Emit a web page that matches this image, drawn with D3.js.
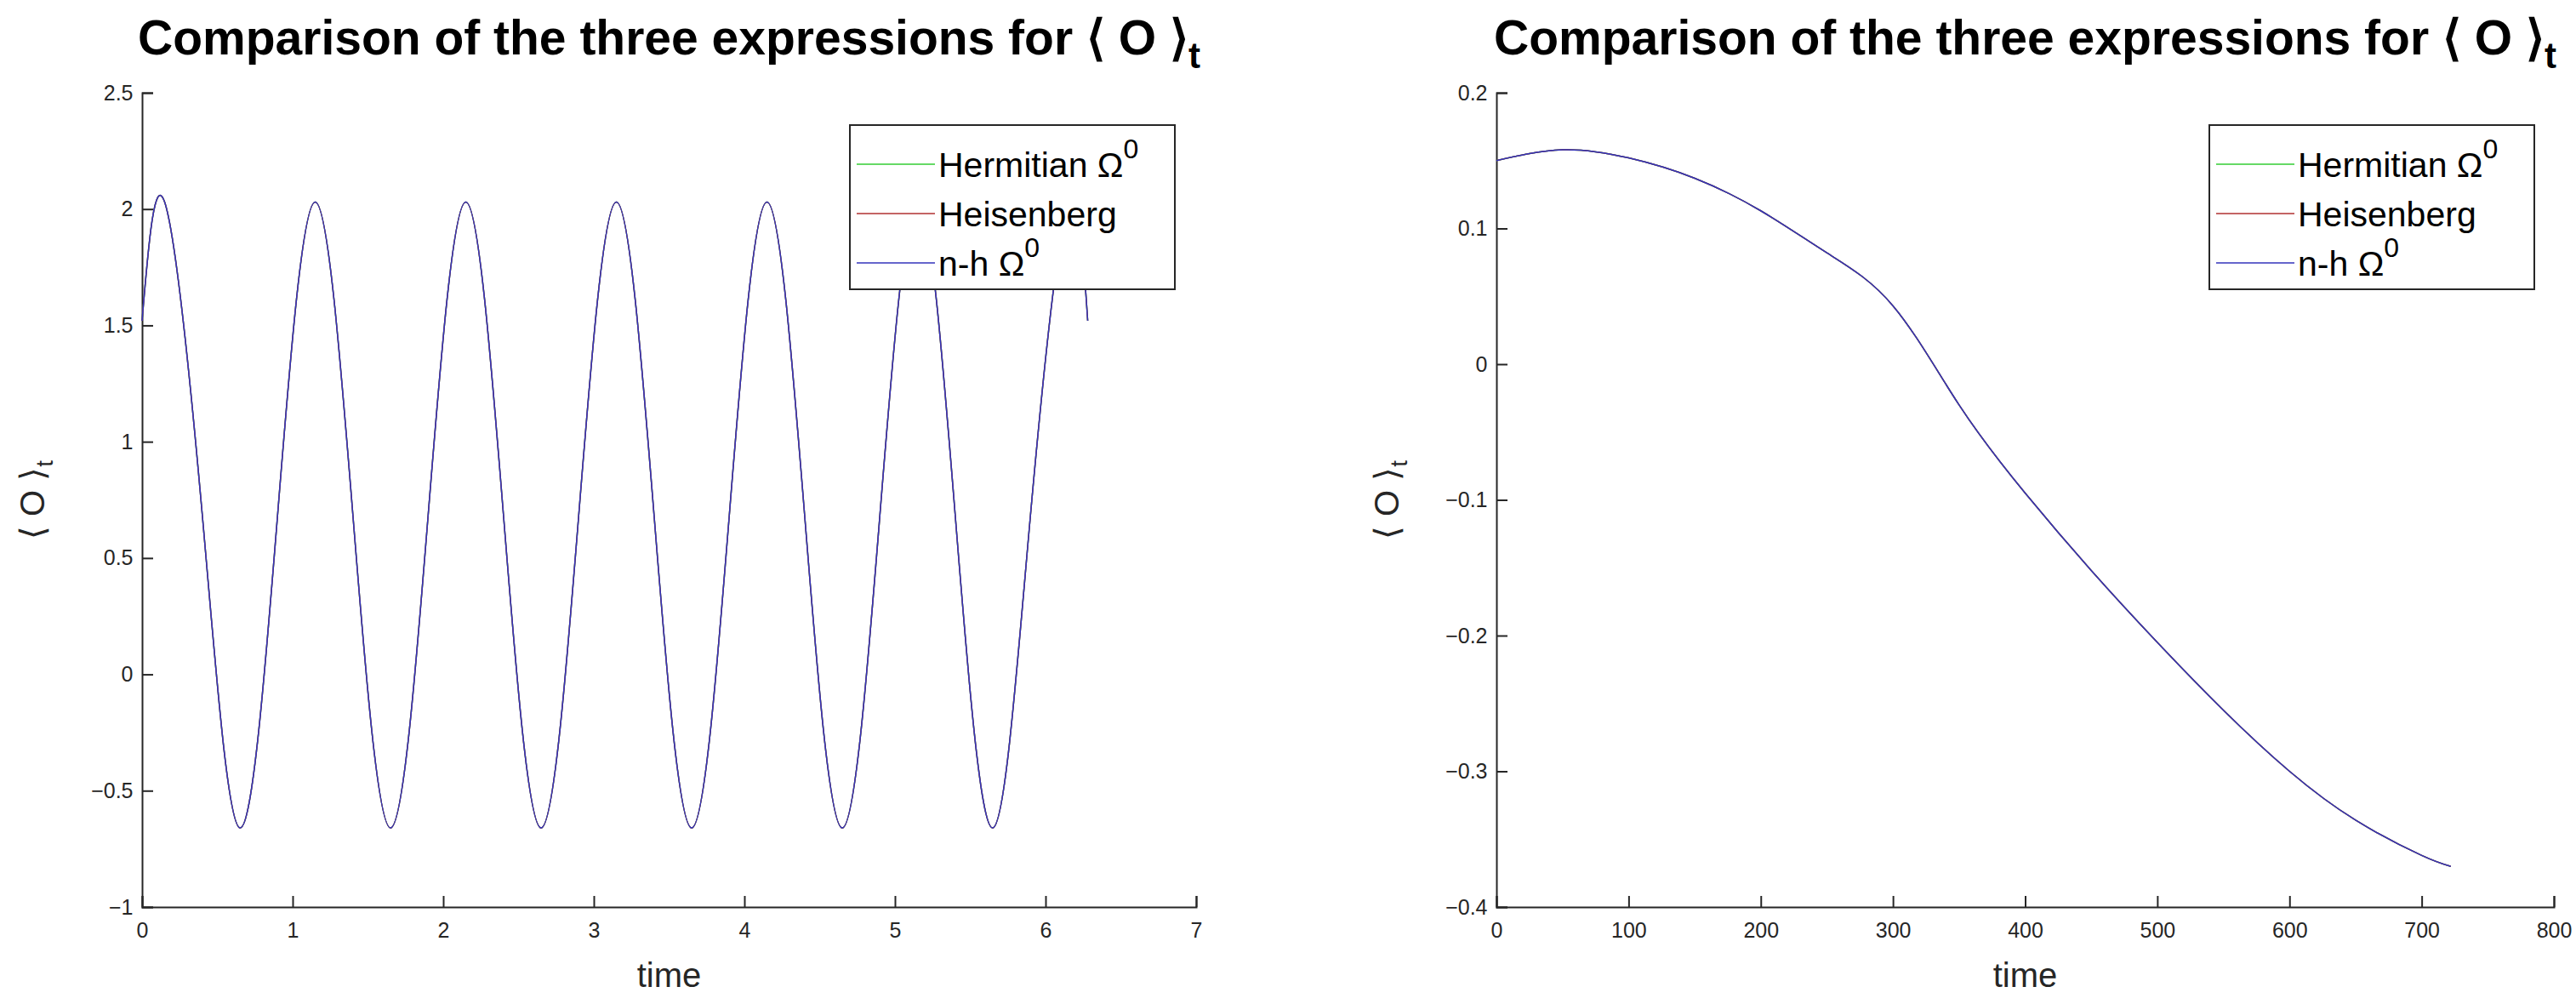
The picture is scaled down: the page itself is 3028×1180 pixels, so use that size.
<!DOCTYPE html><html><head><meta charset="utf-8"><script src="https://cdn.jsdelivr.net/npm/d3@7"></script>
<style>body{margin:0;background:#fff}text{font-family:"Liberation Sans",Arial,sans-serif}</style></head><body><svg id="c" width="3028" height="1180"></svg><script>
const leftT=[0,0.15,0.4,0.65,0.9,1.15,1.4,1.65,1.9,2.15,2.4,2.65,2.9,3.15,3.4,3.65,3.9,4.15,4.4,4.65,4.9,5.15,5.4,5.65,5.9,6.15,6.28];
const leftY=[1.52,2.03,0.685,-0.66,0.685,2.03,0.685,-0.66,0.685,2.03,0.685,-0.66,0.685,2.03,0.685,-0.66,0.685,2.03,0.685,-0.66,0.685,2.03,0.685,-0.66,0.685,2.03,1.52];
const rightT=[0,50,100,150,200,250,300,350,400,450,500,550,600,650,700,722];
const rightY=[0.15,0.158,0.152,0.137,0.113,0.082,0.043,-0.03,-0.095,-0.152,-0.205,-0.255,-0.3,-0.336,-0.362,-0.37];
const seriesNames=["Hermitian Ω","Heisenberg","n-h Ω"];
const seriesSup=["0","","0"];
const seriesColors=["#33cc33","#b03030","#3333bb"];
const leftXTicks=[0,1,2,3,4,5,6,7], leftYTicks=[-1,-0.5,0,0.5,1,1.5,2,2.5];
const rightXTicks=[0,100,200,300,400,500,600,700,800], rightYTicks=[-0.4,-0.3,-0.2,-0.1,0,0.1,0.2];
const svg=d3.select("#c");
function panel(x0,x1,xd,yd,xt,yt,T,Y,legX){
  const x=d3.scaleLinear().domain(xd).range([x0,x1]);
  const y=d3.scaleLinear().domain(yd).range([1066,109]);
  const g=svg.append("g");
  const ax=g.append("g").attr("transform","translate(0,1066)").call(d3.axisBottom(x).tickValues(xt).tickSize(-13).tickFormat(d3.format("")));
  const ay=g.append("g").attr("transform",`translate(${x0},0)`).call(d3.axisLeft(y).tickValues(yt).tickSize(-13).tickFormat(d=>d3.format("")(d).replace("-","−")));
  [ax,ay].forEach(a=>{a.selectAll("path,line").attr("stroke","#262626").attr("stroke-width",2);a.selectAll("text").attr("font-size",25).attr("fill","#262626").attr("font-family","Liberation Sans");});
  ax.selectAll("text").attr("dy","1.3em");
  ay.selectAll("text").attr("dx","-0.3em");
  const line=d3.line().x((d,i)=>x(T[i])).y(d=>y(d)).curve(d3.curveNatural);
  seriesColors.forEach(c=>g.append("path").attr("d",line(Y)).attr("fill","none").attr("stroke",c).attr("stroke-width",1.5));
  const cx=(x0+x1)/2;
  const tt=g.append("text").attr("x",cx).attr("y",64).attr("text-anchor","middle").attr("font-size",57).attr("font-weight","bold");
  tt.append("tspan").text("Comparison of the three expressions for ⟨ O ⟩");
  tt.append("tspan").attr("dy",16).attr("font-size",42).text("t");
  g.append("text").attr("x",cx).attr("y",1160).attr("text-anchor","middle").attr("font-size",40).attr("fill","#262626").text("time");
  const yl=g.append("text").attr("transform",`translate(${x0-115},${(109+1066)/2}) rotate(-90)`).attr("text-anchor","middle").attr("font-size",40).attr("fill","#262626");
  yl.append("tspan").text("⟨ O ⟩");yl.append("tspan").attr("dy",10).attr("font-size",28).text("t");
  const lg=g.append("g").attr("transform",`translate(${legX},147)`);
  lg.append("rect").attr("width",382).attr("height",193).attr("fill","#fff").attr("stroke","#262626").attr("stroke-width",2);
  seriesNames.forEach((n,i)=>{const yy=46+i*58;
    lg.append("line").attr("x1",8).attr("x2",100).attr("y1",yy).attr("y2",yy).attr("stroke",seriesColors[i]).attr("stroke-width",1.5);
    const t=lg.append("text").attr("x",104).attr("y",yy+15).attr("font-size",41).attr("fill","#000");
    t.append("tspan").text(n);
    if(seriesSup[i]) t.append("tspan").attr("dy",-22).attr("font-size",32).text(seriesSup[i]);});
}
panel(167,1406,[0,7],[-1,2.5],leftXTicks,leftYTicks,leftT,leftY,999);
panel(1759,3002,[0,800],[-0.4,0.2],rightXTicks,rightYTicks,rightT,rightY,2597);
</script></body></html>
